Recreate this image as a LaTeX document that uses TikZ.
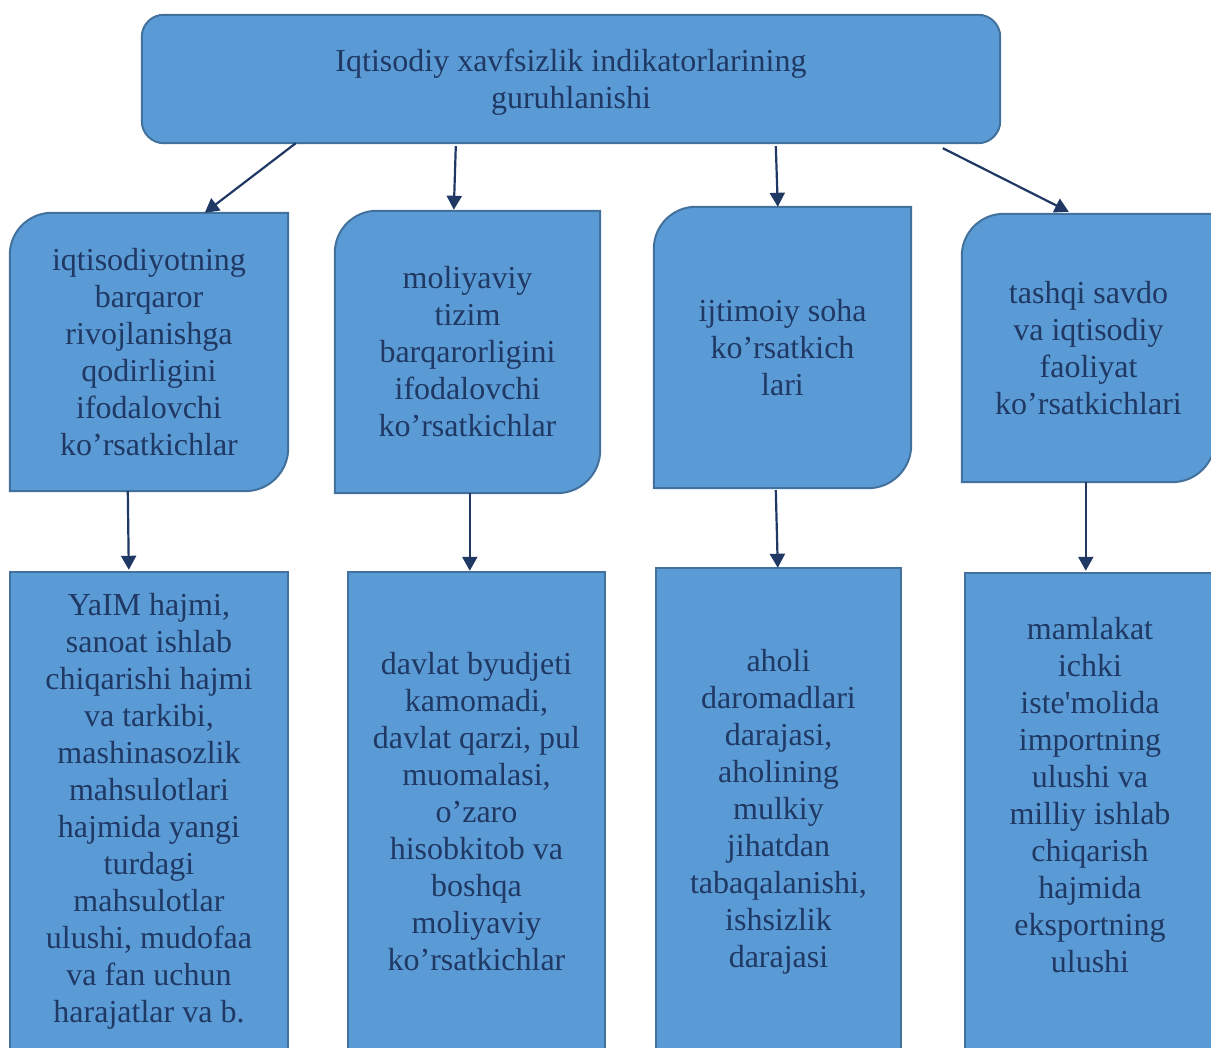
\documentclass[tikz,border=0pt]{standalone}
\usepackage{fontspec}
\setmainfont{Liberation Serif}
\usetikzlibrary{arrows.meta,backgrounds}
\definecolor{boxfill}{HTML}{5B9BD5}
\definecolor{boxline}{HTML}{41719C}
\definecolor{txtcol}{HTML}{1F3864}
\definecolor{arrcol}{HTML}{203864}
\tikzset{
  shapebox/.style={fill=boxfill,draw=boxline,line width=2pt},
  txtnode/.style={inner sep=0pt,align=center,text=txtcol,font=\fontsize{32}{37}\selectfont},
  conn/.style={draw=arrcol,line width=2.2pt,-{Triangle[length=14pt,width=15pt]}},
}
\newcommand\midshape[1]{%
  \path[shapebox] (#1.south west) -- ([yshift=-42pt]#1.north west)
    arc[start angle=180,end angle=90,radius=42pt] -- (#1.north east)
    -- ([yshift=43pt]#1.south east)
    arc[start angle=0,end angle=-90,radius=43pt] -- cycle;}
\newcommand\lowshape[1]{%
  \path[shapebox] (#1.north west) rectangle (#1.east |- 0,-30);}
\begin{document}
\begin{tikzpicture}[x=1pt,y=1pt]
\useasboundingbox (0,0) rectangle (1211,1048);
% top
\node[txtnode,minimum width=858pt,minimum height=128pt] (top) at (571,966)
  {Iqtisodiy xavfsizlik indikatorlarining\\guruhlanishi};
% middle row
\node[txtnode,minimum width=278pt,minimum height=278pt] (m1) at (149,696)
  {iqtisodiyotning\\barqaror\\rivojlanishga\\qodirligini\\ifodalovchi\\ko’rsatkichlar};
\node[txtnode,minimum width=265pt,minimum height=282pt] (m2) at (467.5,696)
  {moliyaviy\\tizim\\barqarorligini\\ifodalovchi\\ko’rsatkichlar};
\node[txtnode,minimum width=257pt,minimum height=281pt] (m3) at (782.5,700.5)
  {ijtimoiy soha\\ko’rsatkich\\lari};
\node[txtnode,minimum width=253pt,minimum height=268pt] (m4) at (1088.5,700)
  {tashqi savdo\\va iqtisodiy\\faoliyat\\ko’rsatkichlari};
% bottom row
\node[txtnode,minimum width=278pt,minimum height=479pt] (b1) at (149,236.5)
  {YaIM hajmi,\\sanoat ishlab\\chiqarishi hajmi\\va tarkibi,\\mashinasozlik\\mahsulotlari\\hajmida yangi\\turdagi\\mahsulotlar\\ulushi, mudofaa\\va fan uchun\\harajatlar va b.};
\node[txtnode,minimum width=257pt,minimum height=480pt] (b2) at (476.5,236)
  {davlat byudjeti\\kamomadi,\\davlat qarzi, pul\\muomalasi,\\o’zaro\\hisobkitob va\\boshqa\\moliyaviy\\ko’rsatkichlar};
\node[txtnode,minimum width=245pt,minimum height=488pt] (b3) at (778.5,236)
  {aholi\\daromadlari\\darajasi,\\aholining\\mulkiy\\jihatdan\\tabaqalanishi,\\ishsizlik\\darajasi};
\node[txtnode,minimum width=250pt,minimum height=445pt] (b4) at (1090,252.5)
  {mamlakat\\ichki\\iste\textquotesingle molida\\importning\\ulushi va\\milliy ishlab\\chiqarish\\hajmida\\eksportning\\ulushi};
% shapes behind the text
\begin{scope}[on background layer]
  \clip (0,0) rectangle (1211,1048);
  \path[shapebox,rounded corners=22pt] ([yshift=3pt]top.south west) rectangle ([yshift=3pt]top.north east);
  \midshape{m1}\midshape{m2}\midshape{m3}\midshape{m4}
  \lowshape{b1}\lowshape{b2}\lowshape{b3}\lowshape{b4}
\end{scope}
% connectors
\draw[conn] ([xshift=154pt,yshift=3pt]top.south west) -- ([xshift=195pt]m1.north west);
\draw[conn] ([xshift=314pt]top.south west) -- ([xshift=119pt,yshift=1pt]m2.north west);
\draw[conn] ([xshift=634pt]top.south west) -- ([xshift=124pt]m3.north west);
\draw[conn] ([xshift=801pt,yshift=-2pt]top.south west) -- ([xshift=107pt,yshift=2pt]m4.north west);
\draw[conn] ([xshift=118pt]m1.south west) -- ([xshift=119pt,yshift=2pt]b1.north west);
\draw[conn] ([xshift=135pt]m2.south west) -- ([xshift=122pt,yshift=1pt]b2.north west);
\draw[conn] ([xshift=122pt,yshift=-2pt]m3.south west) -- ([xshift=122pt]b3.north west);
\draw[conn] ([xshift=124pt]m4.south west) -- ([xshift=121pt,yshift=2pt]b4.north west);
\end{tikzpicture}
\end{document}
